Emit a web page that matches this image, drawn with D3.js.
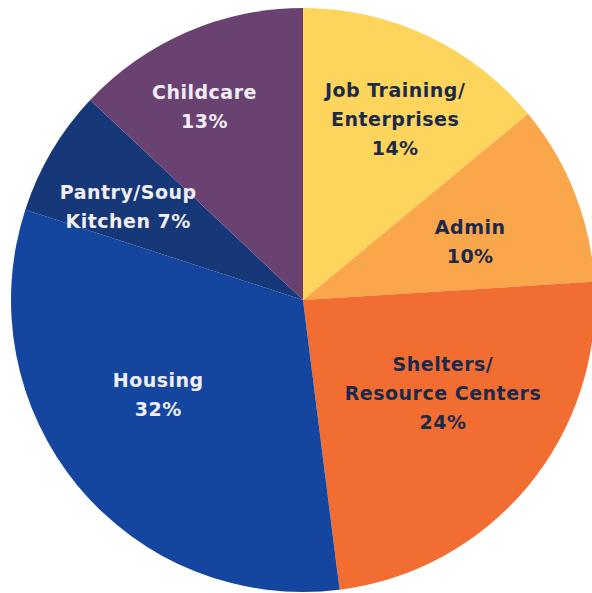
<!DOCTYPE html>
<html>
<head>
<meta charset="utf-8">
<script src="https://cdn.jsdelivr.net/npm/d3@7"></script>
<style>
  html, body { margin: 0; padding: 0; background: #fff; }
  svg { display: block; }
</style>
</head>
<body>
<div id="chart"></div>
<script>
// slices, clockwise from 12 o'clock
const categories = ["Job Training/ Enterprises", "Admin", "Shelters/ Resource Centers", "Housing", "Pantry/Soup Kitchen", "Childcare"];
const shares = [14, 10, 24, 32, 7, 13];
const labelLines = [
  ["Job Training/", "Enterprises", "14%"],
  ["Admin", "10%"],
  ["Shelters/", "Resource Centers", "24%"],
  ["Housing", "32%"],
  ["Pantry/Soup", "Kitchen 7%"],
  ["Childcare", "13%"]
];
const colors = ["#fdd55c", "#faa64b", "#f26d31", "#1446a0", "#173878", "#6a4272"];
const textColors = ["#1c2a4a", "#1c2a4a", "#1c2a4a", "#f1eef4", "#f1eef4", "#f1eef4"];
// label placement: radius and angle nudge (degrees) from slice middle
const labelRadius = [203, 177, 168, 173, 198, 217];
const labelTurn = [1.8, 2.4, -6, 6.4, -2.6, -3.6];

const w = 592, h = 593;
const cx = 303, cy = 300, r = 292;

const svg = d3.select("#chart").append("svg")
  .attr("width", w)
  .attr("height", h)
  .attr("viewBox", [0, 0, w, h]);

const g = svg.append("g").attr("transform", `translate(${cx},${cy})`);

const pie = d3.pie().sort(null).value(d => d);
const arcs = pie(shares);
const arc = d3.arc().innerRadius(0).outerRadius(r);

g.selectAll("path")
  .data(arcs)
  .join("path")
  .attr("d", arc)
  .attr("fill", (d, i) => colors[i]);

const lineH = 29;
const labels = g.selectAll("g.label")
  .data(arcs)
  .join("g")
  .attr("class", "label")
  .attr("transform", (d, i) => {
    const a = (d.startAngle + d.endAngle) / 2 + labelTurn[i] * Math.PI / 180;
    const x = Math.sin(a) * labelRadius[i];
    const y = -Math.cos(a) * labelRadius[i];
    return `translate(${x},${y})`;
  });

labels.each(function (d, i) {
  const lines = labelLines[i];
  const t = d3.select(this).append("text")
    .attr("text-anchor", "middle")
    .attr("fill", textColors[i])
    .style("font-family", "'DejaVu Sans', sans-serif")
    .style("font-weight", 700)
    .style("font-size", "19px")
    .style("letter-spacing", "0.5px");
  lines.forEach((s, k) => {
    t.append("tspan")
      .attr("x", 0)
      .attr("y", (k - (lines.length - 1) / 2) * lineH)
      .attr("dy", "0.35em")
      .text(s);
  });
});
</script>
</body>
</html>
